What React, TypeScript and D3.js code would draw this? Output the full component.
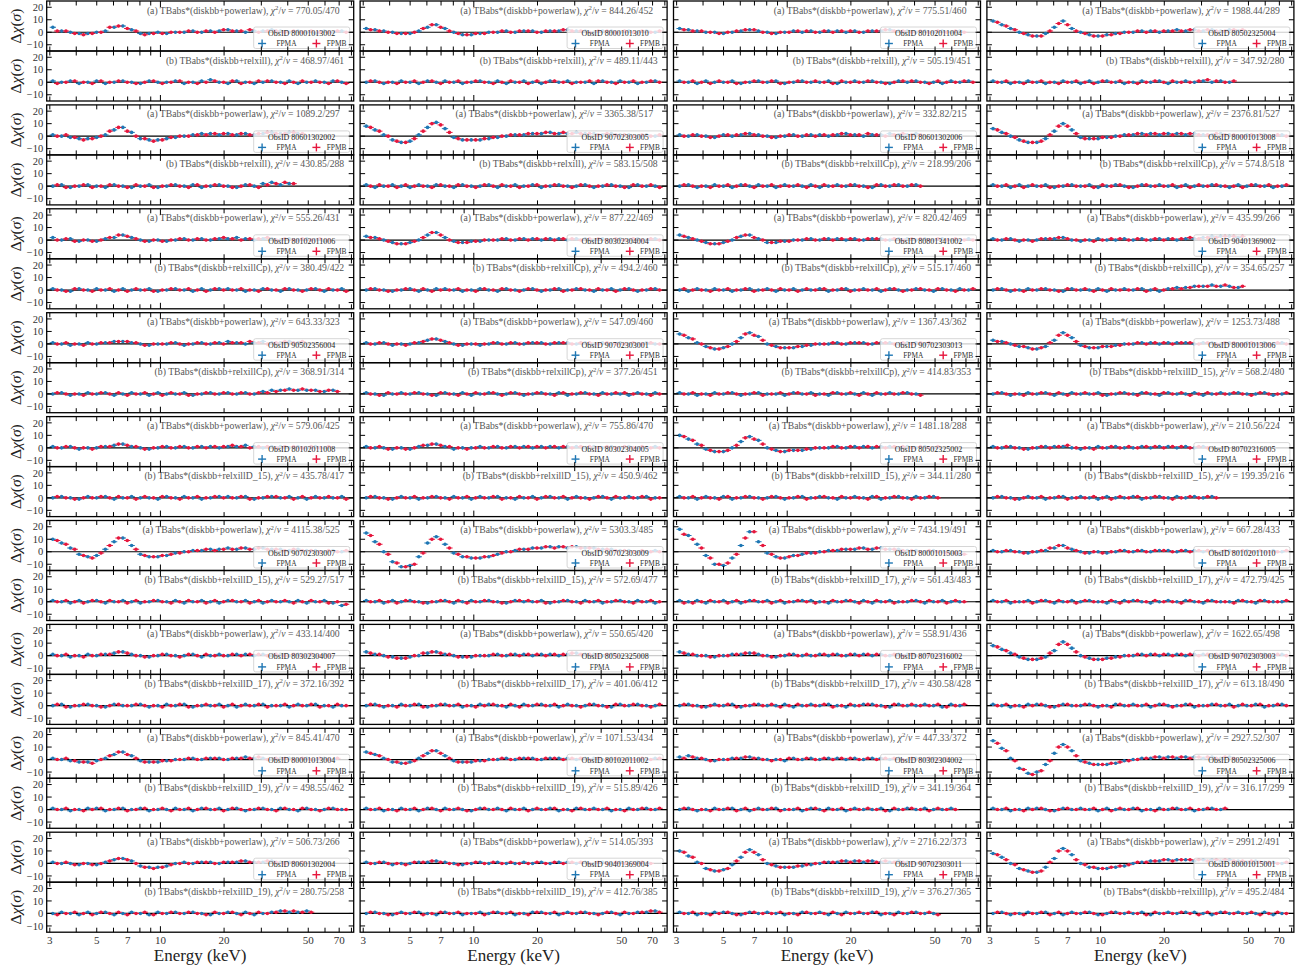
import React from "react";
import * as d3 from "d3";

// panels are listed column by column, 9 pairs per column
const obsIds = [
  "80001013002", "80601302002", "80102011006", "90502356004", "80102011008", "90702303007", "80302304007", "80001013004", "80601302004",
  "80001013010", "90702303005", "80302304004", "90702303001", "80302304005", "90702303009", "80502325008", "80102011002", "90401369004",
  "80102011004", "80601302006", "80801341002", "90702303013", "80502325002", "80001015003", "80702316002", "80302304002", "90702303011",
  "80502325004", "80001013008", "90401369002", "80001013006", "80702316005", "80102011010", "90702303003", "80502325006", "80001015001",
];

const modelA = "(a) TBabs*(diskbb+powerlaw)";

const chiA = [
  "770.05/470", "1089.2/297", "555.26/431", "643.33/323", "579.06/425", "4115.38/525", "433.14/400", "845.41/470", "506.73/266",
  "844.26/452", "3365.38/517", "877.22/469", "547.09/460", "755.86/470", "5303.3/485", "550.65/420", "1071.53/434", "514.05/393",
  "775.51/460", "332.82/215", "820.42/469", "1367.43/362", "1481.18/288", "7434.19/491", "558.91/436", "447.33/372", "2716.22/373",
  "1988.44/289", "2376.81/527", "435.99/266", "1253.73/488", "210.56/224", "667.28/433", "1622.65/498", "2927.52/307", "2991.2/491",
];

const modelB = [
  "relxill", "relxill", "relxillCp", "relxillCp", "relxillD_15", "relxillD_15", "relxillD_17", "relxillD_19", "relxillD_19",
  "relxill", "relxill", "relxillCp", "relxillCp", "relxillD_15", "relxillD_15", "relxillD_17", "relxillD_19", "relxillD_19",
  "relxill", "relxillCp", "relxillCp", "relxillCp", "relxillD_15", "relxillD_17", "relxillD_17", "relxillD_19", "relxillD_19",
  "relxill", "relxillCp", "relxillCp", "relxillD_15", "relxillD_15", "relxillD_17", "relxillD_17", "relxillD_19", "relxilllp",
];

const chiB = [
  "468.97/461", "430.85/288", "380.49/422", "368.91/314", "435.78/417", "529.27/517", "372.16/392", "498.55/462", "280.75/258",
  "489.11/443", "583.15/508", "494.2/460", "377.26/451", "450.9/462", "572.69/477", "401.06/412", "515.89/426", "412.76/385",
  "505.19/451", "218.99/206", "515.17/460", "414.83/353", "344.11/280", "561.43/483", "430.58/428", "341.19/364", "376.27/365",
  "347.92/280", "574.8/518", "354.65/257", "568.2/480", "199.39/216", "472.79/425", "613.18/490", "316.17/299", "495.2/484",
];

// residuals (sigma) on the energy bins 3.1*1.1^j keV, FPMB bins sit half a bin higher
const resAfpma = [
  "4 1 0 -1 -1 0 1 4 5 2 -1 -1 0 -1 0 0 1 0 1 1 2 1 0 1 1 2 1 0 1 0 -1 1 0 1",
  "1 0 -1 -2 -2 -1 1 5 7 3 -2 -3 -3 -2 -1 0 1 2 2 1 2 1 2 1 2 3 2 3 2",
  "2 0 1 -1 0 -1 1 2 4 2 0 -1 0 -1 0 1 0 1 0 1 1 2 1 0 1 1 0 1 0 1 0 -1",
  "1 0 -1 0 1 0 1 2 2 1 0 -1 0 0 1 -1 0 1 0 1 2 1 0 1 2 1 1 2 1",
  "1 0 1 -1 0 0 1 2 3 1 0 -1 0 1 0 1 0 1 1 0 1 1 2 1 0 1 1 0 1 0 1 0",
  "10 7 3 -2 -4 -3 2 8 11 5 -2 -4 -4 -3 -1 0 1 1 2 2 3 2 3 2 3 2 2 1 2 1 1 0 1 0",
  "1 0 -1 0 1 0 1 2 3 1 0 -1 0 1 0 0 1 -1 0 1 0 1 1 0 1 0 1 0 1 0 0 1",
  "1 0 -1 -2 -2 -1 1 4 6 3 -1 -2 -2 -1 0 0 1 0 1 1 0 1 2 1 1 0 1 1 0 1 0 1 0",
  "1 0 0 -1 0 -1 1 3 4 2 -2 -3 -3 -2 0 1 0 1 1 0 1 1 2 1 1 2 1 1 0",
  "3 2 1 0 -1 -1 1 4 6 3 0 -2 -2 -1 0 0 1 0 1 1 0 1 1 2 1 1 0 1 1 0 1 0 1 0",
  "8 5 1 -3 -5 -4 1 7 11 6 -1 -3 -3 -3 -2 -1 0 1 1 2 2 3 2 2 3 2 2 1 2 1 1 0 1 0",
  "3 2 0 -2 -3 -2 0 4 6 2 -1 -2 -1 -1 0 0 1 0 1 1 0 1 1 0 1 1 0 1 0 1 0 1 0 1",
  "1 0 1 -1 0 0 1 3 4 2 0 -1 0 -1 0 1 0 1 0 1 1 0 1 1 0 1 0 1 0 1 0 0 1 0",
  "1 0 0 -1 0 -1 1 2 3 1 -1 0 0 1 0 1 0 1 1 0 1 1 0 1 1 0 1 0 1 0 1 0 0 1",
  "15 8 0 -8 -12 -11 -4 7 12 6 -1 -4 -5 -5 -4 -2 0 1 2 3 3 4 4 3 4 3 3 2 2 1 1 0 0 1",
  "3 1 0 -1 -2 -1 0 2 3 1 0 -1 -1 0 0 1 0 1 1 0 1 1 0 1 2 1 1 0 1",
  "6 4 1 -2 -3 -2 1 5 7 3 -1 -2 -2 -1 0 0 1 0 1 1 0 1 1 1 0 1 1 0 1 0 1 0 0 1",
  "1 0 1 -1 0 0 1 1 2 1 0 -1 0 1 0 1 0 0 1 0 1 0 1 1 0 1 0 1 0 1 0 1 0",
  "3 2 1 0 0 -1 0 1 2 1 0 -1 0 1 0 1 0 1 1 0 1 0 1 1 2 1 1 0 1 0 1 0 1",
  "1 0 1 0 -1 1 0 1 2 1 0 -1 0 1 0 1 1 0 1 2 1 0 1 1 2 1 1 2",
  "4 2 0 -2 -3 -2 0 3 4 1 -2 -2 -1 0 0 1 0 1 1 0 1 0 1 1 0 1 1 0 1 0 1 0 0 1",
  "8 5 1 -2 -4 -3 0 5 9 6 0 -2 -3 -3 -2 -1 0 0 1 0 1 1 0 1 1 0 1 1 0",
  "10 7 3 -1 -3 -3 0 5 9 6 0 -2 -3 -2 -2 -1 0 0 1 0 1 1 0 1 1 0 1 0 1 0",
  "18 13 6 -3 -10 -11 -5 5 16 8 -1 -4 -5 -3 -2 -1 0 1 1 2 2 3 2 3 2 2 1 1 0 1 0 -1 -2",
  "3 1 0 0 -1 0 1 1 2 1 0 -1 0 1 0 0 1 0 1 0 1 1 0 1 0 1 1 0 1 0 1 0",
  "2 3 1 0 -1 0 1 1 2 1 0 0 -1 1 0 1 0 1 1 0 1 0 1 1 0 1 0 1 0 1 0",
  "10 6 1 -4 -6 -5 -1 5 11 7 0 -2 -3 -3 -2 -1 0 1 1 2 2 1 2 1 1 2 1 0 1 0",
  "9 6 3 0 -2 -3 -1 4 9 3 0 -2 -3 -2 -1 0 0 1 1 0 1 2 1 2 1 2 1 2 1",
  "6 3 0 -3 -5 -5 -2 4 10 5 -1 -2 -2 -1 0 1 1 2 2 1 2 2 1 2 1 1 2 1 0 1 0 1 0 1",
  "1 0 1 -1 0 0 1 1 2 0 -1 0 1 0 0 1 0 1 0 1 1 0 1 1 2 3 3 3 2",
  "3 2 0 -2 -3 -4 -2 3 9 5 -1 -3 -3 -2 -1 0 0 1 1 0 1 1 1 0 1 1 0 1 0 1 0 1 0 1",
  "1 0 1 0 -1 0 1 1 1 0 -1 0 1 0 1 0 0 1 0 1 1 0 1 0 1",
  "1 0 1 0 -1 0 1 3 5 2 0 -1 0 -1 0 1 0 1 0 1 1 0 1 1 0 1 0 1 0 1 0 0 1 0",
  "8 5 2 -1 -3 -3 -1 4 11 6 0 -2 -3 -2 -1 0 0 1 1 0 1 1 0 1 1 0 1 1 0 1 0 1 0 1",
  "15 9 1 -7 -11 -10 -4 5 12 7 -1 -3 -4 -4 -3 -1 0 1 1 2 2 1 2 2 1 2 1 2",
  "8 5 0 -4 -6 -7 -3 4 12 7 0 -3 -4 -4 -3 -2 0 1 2 2 3 3 3 2 3 3 2 3 2 1 2 1 1 0",
];

const resAfpmb = [
  "1 1 -1 -2 -1 0 4 5 3 1 -2 -1 -1 0 0 1 0 1 0 2 1 1 2 0 1 1 0 1 0 1 0 0 1 0",
  "0 1 -1 -3 -2 0 4 7 4 0 -2 -4 -3 -1 0 0 1 1 2 2 1 2 1 2 3 2 2 3 2",
  "0 1 -1 0 -1 0 2 4 3 1 -1 0 -1 0 1 0 1 0 1 2 1 0 1 1 2 0 1 0 1 0 1 0",
  "0 1 0 -1 0 1 1 2 2 1 -1 0 0 1 0 0 1 0 1 0 1 1 2 1 0 1 2 1 2",
  "0 1 0 0 -1 1 1 3 2 1 -1 0 1 0 1 0 1 0 1 1 2 1 0 1 1 0 1 1 0 1 0 1",
  "9 6 2 -3 -5 -1 5 11 9 2 -3 -4 -3 -2 -1 0 1 2 1 2 2 3 2 3 2 2 1 2 1 1 0 1 0 1",
  "0 1 0 -1 0 1 1 3 2 0 -1 0 1 0 -1 1 0 1 0 0 1 0 1 1 0 1 0 1 0 1 0 0",
  "0 1 -1 -2 -3 0 3 6 4 1 -2 -2 -1 -1 0 1 0 1 1 0 1 1 1 2 0 1 1 0 1 0 1 0 1",
  "0 1 -1 0 -1 0 2 4 3 0 -3 -4 -3 -1 0 0 1 1 0 1 1 2 1 1 2 1 0 1 1",
  "2 1 0 -1 -1 0 3 6 4 1 -1 -2 -1 -1 0 1 0 1 1 0 1 1 2 1 1 0 1 1 0 1 0 1 0 1",
  "7 4 0 -4 -5 -2 4 10 9 3 -2 -3 -3 -2 -1 0 1 1 2 2 3 2 3 2 2 2 1 2 1 1 0 1 0 1",
  "2 1 -1 -3 -3 -1 2 6 4 0 -2 -2 -1 0 0 1 0 1 0 1 1 0 1 1 0 1 1 0 1 0 1 0 1 0",
  "0 1 0 0 -1 1 2 4 3 1 -1 0 0 0 1 0 1 0 1 1 0 1 1 0 1 1 0 1 0 0 1 0 1 0",
  "0 1 -1 0 -1 0 2 3 2 1 0 -1 0 0 1 0 1 0 1 1 0 1 1 0 1 1 0 1 0 1 0 1 0 0",
  "13 6 -2 -9 -12 -10 -1 10 10 3 -2 -4 -5 -4 -3 -1 0 2 2 3 4 3 4 4 3 3 2 2 1 1 0 1 0 0",
  "2 1 -1 -2 -2 0 2 3 2 1 -1 -1 0 0 1 0 1 0 1 1 0 1 1 2 1 1 0 1 0",
  "5 3 0 -2 -3 -1 3 7 5 1 -2 -2 -1 -1 0 1 0 1 1 0 1 1 0 1 1 0 1 0 1 0 0 1 0 1",
  "0 1 0 0 -1 1 1 2 1 0 -1 0 1 0 1 0 1 0 0 1 0 1 0 1 1 0 1 0 1 0 0 1 0",
  "2 1 1 0 -1 0 1 2 2 0 -1 0 0 1 1 0 1 0 1 1 0 1 1 2 1 1 0 1 0 1 0 1 0",
  "0 1 0 -1 0 1 1 2 1 0 -1 0 1 0 1 0 1 1 2 1 1 2 1 0 1 2 1 1",
  "3 1 -1 -3 -3 -1 2 4 2 0 -2 -1 -1 0 1 0 1 0 1 1 0 1 1 0 1 0 1 1 0 1 0 1 0 0",
  "7 4 0 -3 -4 -2 2 8 7 3 -1 -3 -3 -2 -1 0 0 1 0 1 1 0 1 1 0 1 0 1 1",
  "9 6 2 -2 -3 -2 2 8 7 3 -1 -3 -2 -2 -1 0 0 1 0 1 0 1 1 0 1 1 0 1 0 1",
  "14 10 3 -5 -10 -9 -2 11 16 5 -2 -5 -4 -3 -1 -1 0 1 2 2 3 2 3 2 2 1 1 0 1 0 -1 -1 -2",
  "2 1 0 -1 0 0 1 2 2 0 -1 0 1 0 1 0 1 1 0 1 0 1 1 0 1 0 1 0 1 0 0 1",
  "1 2 1 -1 0 0 1 2 1 0 -1 0 1 0 1 0 1 0 1 1 0 1 0 1 1 0 1 0 1 0 1",
  "9 5 0 -5 -6 -4 2 9 9 3 -1 -3 -3 -2 -1 0 1 1 2 1 2 2 1 2 1 1 0 1 0 1",
  "8 5 2 -1 -3 -3 1 7 6 1 -1 -3 -3 -2 -1 0 1 0 1 1 1 1 2 1 2 1 1 2 2",
  "5 2 -1 -4 -5 -4 1 8 8 2 -2 -2 -1 -1 0 1 2 1 2 2 1 2 2 1 1 2 1 1 0 1 1 0 1 0",
  "0 1 0 0 -1 1 1 2 1 0 0 -1 0 1 1 0 1 0 1 0 1 1 2 1 2 2 3 3 3",
  "2 1 -1 -2 -4 -3 1 7 7 2 -2 -3 -2 -2 -1 0 1 0 1 1 0 1 1 0 1 0 1 1 0 1 0 0 1 0",
  "0 1 0 -1 0 1 0 1 2 0 0 -1 0 1 0 1 0 1 1 0 1 1 0 1 0",
  "0 1 0 -1 0 1 3 5 3 1 -1 0 -1 0 1 0 1 0 1 1 0 1 0 1 1 0 1 0 1 0 1 0 0 1",
  "7 4 1 -2 -3 -2 2 9 9 3 -1 -3 -3 -2 -1 0 1 0 1 1 0 1 1 0 1 1 0 1 0 1 1 0 1 0",
  "13 7 -1 -8 -12 -9 -1 10 10 3 -2 -4 -4 -3 -2 -1 0 1 2 1 2 2 1 2 2 1 2 1",
  "7 3 -1 -5 -7 -6 1 10 10 3 -1 -3 -4 -3 -2 -1 1 1 2 3 2 3 3 3 2 3 3 2 2 2 1 1 0 1",
];

const resBfpma = [
  "1 0 1 -1 0 1 -1 0 1 0 -1 1 0 0 1 -1 0 1 2 0 -1 1 0 -1 0 1 0 1 -1 0 1 0 1 0",
  "0 1 -1 0 1 0 -1 1 0 -1 0 1 -1 0 1 0 1 -1 0 1 0 -1 1 0 2 3 1 2",
  "1 0 -1 1 0 1 0 -1 1 0 0 1 -1 0 1 0 -1 1 0 1 1 0 -1 0 1 0 -1 1 0 0 1 -1 0 1",
  "0 1 -1 0 1 0 1 -1 0 1 0 -1 1 0 0 1 -1 0 1 0 1 0 1 0 2 3 3 4 3 3 3 2 3",
  "0 1 0 -1 1 0 1 -1 0 1 0 0 -1 1 0 1 0 -1 0 1 1 0 1 -1 0 1 0 1 0 -1 1 0 0 1",
  "1 0 -1 1 0 1 -1 0 1 0 -1 0 1 0 1 -1 0 1 0 -1 1 0 1 0 -1 1 0 0 1 -1 0 1 -1 -3",
  "0 1 -1 0 1 0 -1 1 0 0 1 -1 0 1 0 1 -1 0 0 1 0 -1 1 0 1 0 0 -1 1 0 1 0 -1 0",
  "1 0 -1 0 1 1 -1 0 1 0 1 -1 0 0 1 0 -1 1 0 1 0 1 -1 0 1 0 1 0 -1 1 0 0 1 0",
  "0 1 0 -1 1 0 1 -1 0 1 0 -1 1 0 1 0 1 0 -1 0 1 0 1 -1 0 1 2 1 1 2",
  "0 1 -1 0 1 0 -1 1 0 1 0 -1 0 1 0 1 -1 0 1 0 -1 1 0 1 0 0 -1 1 0 1 0 -1 0 1",
  "1 -1 0 1 0 -1 1 0 1 0 -1 1 0 0 1 -1 0 1 0 1 -1 0 1 0 0 1 -1 0 1 0 -1 1 0 0",
  "0 1 0 -1 0 1 -1 0 1 1 0 -1 0 1 0 -1 1 0 0 1 -1 0 1 0 1 0 -1 0 1 0 1 -1 0 1",
  "1 0 -1 0 1 0 1 0 -1 1 0 1 -1 0 1 0 0 1 -1 0 1 0 1 -1 0 1 0 1 0 0 -1 1 0 1",
  "0 1 0 -1 1 0 -1 0 1 0 1 0 -1 1 0 1 0 -1 0 1 0 1 0 -1 1 0 0 1 -1 0 1 0 1 0",
  "1 0 -1 1 0 1 0 -1 0 1 -1 0 1 0 1 0 -1 1 0 0 1 -1 0 1 0 1 0 -1 0 1 0 1 0 -1",
  "0 1 -1 0 1 0 1 -1 0 1 0 -1 0 1 1 0 -1 0 1 0 1 0 -1 1 0 0 1 0 -1 1 0 1 0 0",
  "1 0 -1 0 1 0 -1 1 0 1 0 0 -1 1 0 1 -1 0 1 0 0 1 -1 0 1 0 1 0 -1 0 1 0 1 0",
  "0 1 0 -1 1 0 1 0 -1 1 0 -1 0 1 0 1 0 -1 0 1 1 0 -1 1 0 1 0 0 1 -1 0 1 1 2",
  "1 0 -1 1 0 0 1 -1 0 1 0 1 -1 0 1 0 0 1 -1 0 1 0 1 0 -1 1 0 1 0 0 -1 1 0 1",
  "0 1 -1 0 1 0 -1 1 0 1 0 -1 1 0 0 1 -1 0 1 0 1 0 -1 1 0 1 0 1",
  "0 -1 1 0 1 0 -1 0 1 0 1 -1 0 1 0 0 1 -1 0 1 0 1 0 -1 1 0 0 1 0 -1 1 0 1 0",
  "1 0 -1 0 1 0 1 -1 0 1 0 0 -1 1 0 1 0 -1 1 0 0 1 -1 0 1 0 1 0",
  "1 0 -1 1 0 1 -1 0 1 0 0 1 -1 0 1 0 1 0 -1 0 1 0 1 -1 0 1 0 1 0 1",
  "1 0 1 -1 0 1 0 -1 1 0 1 0 -1 0 1 1 0 -1 0 1 0 1 -1 0 1 0 0 1 -1 0 1 0 0",
  "0 1 0 -1 1 0 1 -1 0 1 0 0 1 -1 0 1 0 1 0 -1 0 1 1 0 -1 1 0 0 1 0 -1 1 0",
  "0 1 -1 0 1 0 1 0 -1 1 0 1 0 0 -1 1 0 1 0 -1 1 0 0 1 -1 0 1 0 1 0 0 1",
  "1 0 -1 0 1 1 0 -1 1 0 1 0 -1 0 1 0 1 -1 0 1 0 0 1 -1 0 1 0 1 0 0",
  "1 0 -1 0 1 0 -1 0 1 0 -1 1 0 1 0 -1 0 1 0 1 -1 0 1 0 1 0 1 0",
  "1 0 -1 1 0 0 1 -1 0 1 0 1 -1 0 1 0 -1 1 0 1 0 -1 1 0 0 1 0 -1 1 0 1 0 -1 0",
  "0 1 -1 0 1 0 1 0 -1 1 0 0 1 -1 0 1 0 1 0 -1 1 2 2 3 3 4 3 3 2",
  "0 1 -1 0 1 0 1 -1 0 1 0 0 1 -1 0 1 0 1 0 -1 1 0 0 1 -1 0 1 0 1 0 0 1 -1 0",
  "0 1 0 -1 1 0 -1 0 1 0 1 0 -1 1 0 0 1 -1 0 1 0 1 0 1 0 1",
  "1 0 -1 0 1 0 1 -1 0 1 0 1 0 -1 0 1 1 0 -1 0 1 0 1 0 -1 1 0 0 1 0 -1 1 0 0",
  "1 0 -1 0 1 1 0 -1 1 0 0 1 -1 0 1 0 1 0 -1 1 0 0 1 -1 0 1 0 1 0 0 1 -1 0 1",
  "1 0 -1 0 1 1 0 -1 1 0 1 0 -1 1 0 0 1 -1 0 1 0 1 0 -1 0 1 0",
  "0 1 -1 0 1 0 1 0 -1 1 0 1 -1 0 1 0 0 1 -1 0 1 0 1 1 0 -1 1 0 1 0 0 1 -1 0",
];

const resBfpmb = [
  "-1 0 1 0 -1 1 0 1 0 -1 0 1 -1 0 1 0 -1 0 1 0 1 -1 0 1 1 0 -1 0 1 0 0 -1 1 -1",
  "1 -1 0 1 -1 0 1 0 -1 1 0 -1 0 1 0 -1 1 0 1 0 -1 0 1 -1 1 2 3 2",
  "0 -1 1 0 -1 0 1 0 -1 1 0 -1 0 1 0 1 0 -1 1 0 0 1 0 -1 1 0 1 0 -1 1 0 1 0 -1",
  "1 0 0 -1 0 1 0 1 -1 0 1 0 -1 1 0 -1 0 1 0 1 0 1 0 1 1 2 3 3 4 3 2 3 2",
  "1 0 -1 0 0 1 0 1 0 -1 1 0 1 0 -1 0 1 0 1 0 0 1 -1 0 1 1 0 -1 1 0 0 1 0 -1",
  "0 1 0 -1 1 0 1 0 -1 1 0 1 0 -1 0 1 0 -1 1 0 1 0 -1 1 0 0 1 -1 0 1 0 -1 0 -2",
  "1 -1 0 1 0 -1 0 1 0 1 0 0 -1 0 1 -1 0 1 0 -1 1 0 0 1 -1 0 1 0 0 1 -1 0 1 0",
  "0 1 0 -1 0 1 0 1 -1 0 1 0 1 -1 0 1 0 1 0 -1 1 0 0 1 0 -1 1 0 1 0 -1 1 0 0",
  "-1 0 1 0 -1 1 0 1 -1 0 1 -1 0 1 0 1 0 -1 1 0 1 -1 0 1 0 1 2 2 1 1",
  "1 0 0 -1 0 1 0 1 -1 0 1 0 1 0 -1 0 1 0 -1 1 0 1 0 -1 0 1 1 0 -1 0 1 0 1 0",
  "0 1 0 -1 1 0 0 -1 1 0 1 0 -1 1 0 1 0 -1 0 1 0 1 0 -1 1 0 0 1 0 -1 1 0 1 -1",
  "1 0 -1 0 1 0 1 -1 0 0 1 0 -1 1 0 1 0 -1 1 0 0 1 -1 0 1 0 1 0 -1 1 0 0 1 0",
  "0 -1 1 0 0 1 0 -1 1 0 -1 0 1 0 1 -1 1 0 0 1 0 -1 1 0 1 0 -1 0 1 1 0 0 -1 0",
  "1 0 -1 0 0 1 0 1 0 -1 0 1 0 0 1 -1 0 1 0 -1 1 0 1 0 0 -1 1 0 1 0 0 1 -1 0",
  "0 1 0 -1 1 0 -1 0 1 0 1 -1 0 1 0 -1 0 1 1 0 -1 0 1 0 -1 0 1 0 1 0 -1 0 1 0",
  "1 0 0 -1 0 1 -1 0 1 0 1 0 -1 0 1 0 1 -1 0 1 0 1 0 0 -1 1 0 -1 1 0 1 0 -1 1",
  "0 1 0 -1 0 1 0 1 -1 0 1 -1 0 1 0 0 1 0 -1 1 0 1 0 -1 1 0 0 1 0 -1 0 1 0 1",
  "1 0 -1 0 0 1 -1 0 1 0 1 0 0 -1 1 0 1 0 -1 1 0 1 0 0 1 0 -1 1 0 1 0 1 2 1",
  "0 1 0 -1 1 0 -1 0 1 0 1 -1 0 1 0 1 0 -1 1 0 0 1 0 -1 0 1 1 0 -1 1 0 0 1 0",
  "1 0 0 -1 0 1 0 1 -1 0 1 0 0 1 -1 0 1 0 0 1 0 -1 1 0 1 0 1 0",
  "1 0 0 -1 0 1 0 1 -1 0 0 1 0 -1 1 0 1 0 1 -1 0 0 1 0 1 -1 0 1 0 1 0 -1 0 1",
  "0 1 0 -1 0 1 0 0 1 -1 0 1 0 1 0 -1 0 1 0 1 -1 0 1 0 0 1 0 -1",
  "0 1 0 0 -1 1 0 1 0 -1 1 0 0 1 -1 0 1 0 1 0 0 -1 1 0 1 0 -1 0 1 0",
  "-1 -1 0 1 0 -1 1 0 1 0 -1 1 0 1 0 -1 0 1 0 1 -1 0 1 0 -1 0 1 0 1 0 -1 1 0",
  "1 0 -1 0 0 1 -1 0 1 0 1 -1 0 1 0 0 1 -1 0 1 0 1 0 -1 1 0 1 0 0 1 -1 0 1",
  "1 0 0 -1 0 1 -1 1 0 0 1 -1 0 1 0 1 -1 0 1 0 0 1 0 -1 1 0 1 0 -1 1 0 0",
  "0 1 0 -1 0 1 -1 0 1 0 0 1 0 -1 1 0 0 1 -1 0 1 0 1 0 -1 0 1 0 1 -1",
  "0 1 0 -1 0 1 0 -1 0 1 0 -1 1 0 1 0 -1 0 1 0 1 0 0 1 2 1 0 1",
  "0 1 0 -1 1 0 -1 0 1 0 0 -1 1 0 1 -1 0 1 0 0 1 0 -1 1 0 1 0 0 -1 1 0 1 0 1",
  "1 0 0 -1 0 1 0 -1 1 0 1 -1 0 1 0 0 1 -1 1 0 1 1 2 3 3 3 4 2 3",
  "1 0 0 -1 0 1 0 1 -1 0 1 0 -1 0 1 0 -1 1 0 1 0 1 -1 0 1 0 0 1 0 -1 1 0 0 1",
  "1 0 -1 0 0 1 0 1 -1 0 0 1 0 -1 1 0 1 0 1 0 -1 0 1 0 1 0",
  "0 1 0 0 -1 1 0 1 0 -1 1 0 0 1 -1 0 1 0 1 0 0 -1 1 0 1 0 0 -1 1 0 1 0 0 1",
  "0 1 0 -1 0 1 -1 0 1 0 1 0 0 -1 1 0 0 1 0 1 -1 0 1 0 0 1 0 -1 1 0 1 0 1 0",
  "0 1 0 -1 0 1 -1 0 1 0 0 1 0 -1 1 0 1 0 -1 0 1 0 1 0 1 0 1",
  "1 0 0 -1 0 1 -1 1 0 0 1 0 -1 1 0 1 0 -1 1 0 0 1 0 -1 1 0 1 0 0 1 -1 0 1 0",
];

const xTicks = [3, 4, 5, 6, 7, 8, 9, 10, 20, 30, 40, 50, 60, 70, 80];
const xTickLabels = [3, 5, 7, 10, 20, 50, 70];
const yTicks = [-10, 0, 10, 20];

const BLUE = "#1f77b4";
const RED = "#e6173d";
const FONT = "'Liberation Serif', 'DejaVu Serif', serif";

const left0 = 46.7;
const colPitch = 313.4;
const colW = 307;
const top0 = 1;
const pairPitch = 103.9;
const panelH = 50;

const eStart = 3.1;
const binStep = 1.1;
const fpmbShift = 1.049;

const parse = (s: string) => s.trim().split(/\s+/).map(Number);

function Series({ vals, shift, color, xs, ys }: any) {
  return (
    <g stroke={color} fill={color}>
      {vals.map((v: number, j: number) => {
        const e = eStart * Math.pow(binStep, j) * shift;
        const x = xs(e);
        const y = ys(v);
        return (
          <g key={j}>
            <line x1={xs(e / 1.035)} x2={xs(e * 1.035)} y1={y} y2={y} strokeWidth={1} />
            <line x1={x} x2={x} y1={ys(v - 1)} y2={ys(v + 1)} strokeWidth={1} />
            <circle cx={x} cy={y} r={1.8} stroke="none" />
          </g>
        );
      })}
    </g>
  );
}

function Plus({ cx, cy, color }: any) {
  return (
    <g stroke={color} strokeWidth={1.4}>
      <line x1={cx - 4} x2={cx + 4} y1={cy} y2={cy} />
      <line x1={cx} x2={cx} y1={cy - 4} y2={cy + 4} />
    </g>
  );
}

function Panel({ x0, y0, valsA, valsB, prefix, chi, obsId, showY, showX, pid, inset }: any) {
  const xs = d3.scaleLog().domain([2.9, 82]).range([x0, x0 + colW]);
  const ys = d3.scaleLinear().domain([-15, 25]).range([y0 + panelH, y0]);
  const x1 = x0 + colW;
  const y1 = y0 + panelH;
  return (
    <g>
      <defs>
        <clipPath id={pid}>
          <rect x={x0} y={y0} width={colW} height={panelH} />
        </clipPath>
      </defs>
      <g clipPath={`url(#${pid})`}>
        <line x1={x0} x2={x1} y1={ys(0)} y2={ys(0)} stroke="#000" strokeWidth={1.2} />
        <Series vals={valsA} shift={1} color={BLUE} xs={xs} ys={ys} />
        <Series vals={valsB} shift={fpmbShift} color={RED} xs={xs} ys={ys} />
      </g>
      <text x={x1 - inset} y={y0 + 12.5} textAnchor="end" fontSize={9.7} fill="#555">
        {prefix}, <tspan fontStyle="italic">χ</tspan><tspan dy={-3.5} fontSize={6.8}>2</tspan><tspan dy={3.5}>/</tspan><tspan fontStyle="italic">ν</tspan> = {chi}
      </text>
      {obsId && (
        <g>
          <rect x={x1 - 100} y={y0 + 26} width={96} height={21.5} rx={2} fill="#fff" fillOpacity={0.8} stroke="#ccc" strokeWidth={0.8} />
          <text x={x1 - 52} y={y0 + 35} textAnchor="middle" fontSize={8} fill="#222">ObsID {obsId}</text>
          <Plus cx={x1 - 91.6} cy={y0 + 42.5} color={BLUE} />
          <text x={x1 - 77.3} y={y0 + 45.2} fontSize={7.4} fill="#333">FPMA</text>
          <Plus cx={x1 - 37.3} cy={y0 + 42.5} color={RED} />
          <text x={x1 - 27} y={y0 + 45.2} fontSize={7.4} fill="#333">FPMB</text>
        </g>
      )}
      <g stroke="#000" strokeWidth={1}>
        {xTicks.map((t) => (
          <g key={t}>
            <line x1={xs(t)} x2={xs(t)} y1={y0} y2={y0 + (t === 10 ? 6 : 4.5)} />
            <line x1={xs(t)} x2={xs(t)} y1={y1} y2={y1 - (t === 10 ? 6 : 4.5)} />
          </g>
        ))}
        {yTicks.map((t) => (
          <g key={t}>
            <line x1={x0} x2={x0 + 5} y1={ys(t)} y2={ys(t)} />
            <line x1={x1} x2={x1 - 5} y1={ys(t)} y2={ys(t)} />
          </g>
        ))}
      </g>
      <rect x={x0} y={y0} width={colW} height={panelH} fill="none" stroke="#000" strokeWidth={1.3} />
      {showY && (
        <g>
          {yTicks.map((t) => (
            <text key={t} x={x0 - 3.5} y={ys(t) + 3.7} textAnchor="end" fontSize={10.5} fill="#333">
              {t < 0 ? `−${-t}` : t}
            </text>
          ))}
          <text transform={`translate(20.5,${y0 + panelH / 2}) rotate(-90)`} textAnchor="middle" fontSize={15.5} fill="#222">
            Δ<tspan fontStyle="italic">χ</tspan>(<tspan fontStyle="italic">σ</tspan>)
          </text>
        </g>
      )}
      {showX && (
        <g>
          {xTickLabels.map((t) => (
            <text key={t} x={xs(t)} y={944} textAnchor="middle" fontSize={11} fill="#333">
              {t}
            </text>
          ))}
          <text x={x0 + colW / 2} y={961} textAnchor="middle" fontSize={17} fill="#222">
            Energy (keV)
          </text>
        </g>
      )}
    </g>
  );
}

export default function App() {
  const panels: any[] = [];
  for (let c = 0; c < 4; c++) {
    for (let r = 0; r < 9; r++) {
      const i = c * 9 + r;
      const x0 = left0 + c * colPitch;
      const yTop = top0 + r * pairPitch;
      panels.push(
        <Panel
          key={`a${i}`}
          pid={`clipa${i}`}
          x0={x0}
          y0={yTop}
          valsA={parse(resAfpma[i])}
          valsB={parse(resAfpmb[i])}
          prefix={modelA}
          chi={chiA[i]}
          obsId={obsIds[i]}
          showY={c === 0}
          showX={false}
          inset={14}
        />
      );
      panels.push(
        <Panel
          key={`b${i}`}
          pid={`clipb${i}`}
          x0={x0}
          y0={yTop + panelH}
          valsA={parse(resBfpma[i])}
          valsB={parse(resBfpmb[i])}
          prefix={`(b) TBabs*(diskbb+${modelB[i]})`}
          chi={chiB[i]}
          obsId={null}
          showY={c === 0}
          showX={r === 8}
          inset={9.5}
        />
      );
    }
  }
  return (
    <svg width={1307} height={973} style={{ position: "absolute", left: 0, top: 0 }} fontFamily={FONT}>
      <rect width={1307} height={973} fill="#fff" />
      {panels}
    </svg>
  );
}
